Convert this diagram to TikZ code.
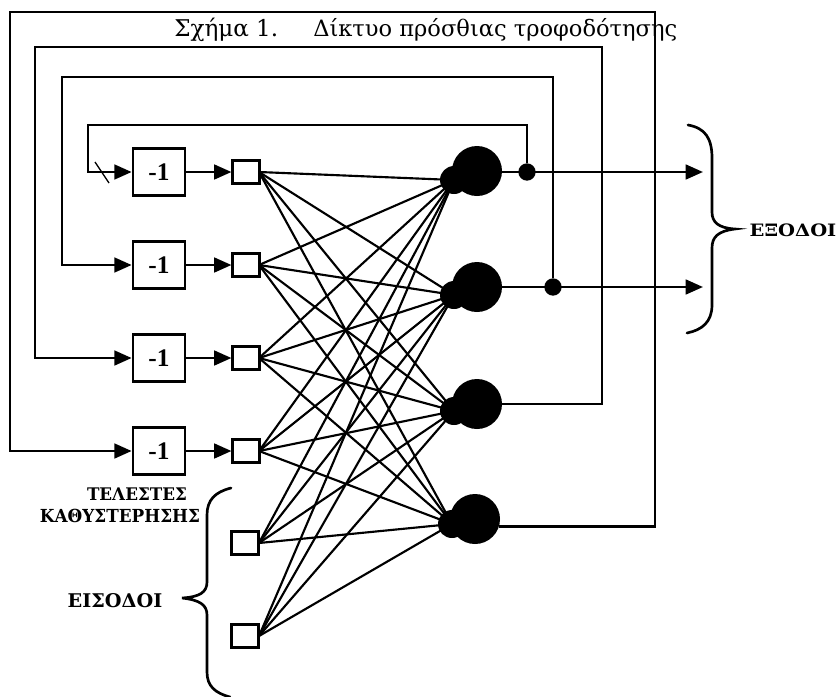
\documentclass[tikz,border=0pt]{standalone}
\usepackage{fontspec}
\setmainfont{DejaVu Serif}
\newfontfamily\timesfont{Liberation Serif}
\usetikzlibrary{arrows.meta}
\begin{document}
\begin{tikzpicture}[x=0.75pt,y=-0.75pt,
  wire/.style={line width=2pt},
  fan/.style={line width=1.6pt},
  tip/.style={-{Triangle[length=13pt,width=11pt]}},
  delaybox/.style={draw,line width=2pt,minimum width=39pt,minimum height=35pt,inner sep=0pt,font=\timesfont\bfseries\fontsize{19}{21}\selectfont},
  inbox/.style={draw,line width=1.8pt,fill=white,minimum width=20pt,minimum height=17pt,inner sep=0pt},
  neuron/.style={circle,fill=black,minimum size=37.5pt,inner sep=0pt},
  blob/.style={circle,fill=black,minimum size=21pt,inner sep=0pt},
  junct/.style={circle,fill=black,minimum size=13pt,inner sep=0pt},
  lbl/.style={inner sep=0pt,font=\bfseries},
  brace/.style={line width=2pt,line cap=round}]
\useasboundingbox (0,0) rectangle (840,697);
\fill[white] (0,0) rectangle (840,697);

% title
\node[inner sep=0pt,anchor=base west] (t1) at (174,36) {\resizebox{78pt}{!}{Σχήμα 1.}};
\node[inner sep=0pt,anchor=base west] (t2) at (313,36) {\resizebox{273pt}{!}{Δίκτυο πρόσθιας τροφοδότησης}};

% delay boxes
\node[delaybox] (d1) at (159,172) {-1};
\node[delaybox] (d2) at (159,265) {-1};
\node[delaybox] (d3) at (159,358) {-1};
\node[delaybox] (d4) at (159,451) {-1};

% neurons
\node[neuron] (n1) at (477,171) {};
\node[neuron] (n2) at (477,287) {};
\node[neuron] (n3) at (477,404) {};
\node[neuron] (n4) at (475,519) {};
\node[blob] (b1) at (454,180) {};
\node[blob] (b2) at (454,295) {};
\node[blob] (b3) at (454,411) {};
\node[blob] (b4) at (452,524) {};

% fan connections
\foreach \n/\y in {1/172,2/265,3/358,4/451,5/543,6/636}
  \coordinate (s\n) at (259,\y);
\foreach \i in {1,...,6}
  \foreach \n in {1,...,4}
    \draw[fan] (s\i) -- (b\n.center);

% input squares
\node[inbox] (i1) at (246,172) {};
\node[inbox] (i2) at (246,265) {};
\node[inbox] (i3) at (246,358) {};
\node[inbox] (i4) at (246,451) {};
\node[inbox] (i5) at (245,543) {};
\node[inbox] (i6) at (245,636) {};

% delay -> input
\foreach \k in {1,...,4}
  \draw[wire,tip] (d\k.east) -- (i\k.west);

% outputs
\node[junct] (j1) at (527,172) {};
\node[junct] (j2) at (553,287) {};
\coordinate (o1) at (703,172);
\coordinate (o2) at (703,287);
\draw[wire,tip] (n1.east |- j1) -- (o1);
\draw[wire,tip] (n2.east) -- (o2);

% feedback loops
\draw[wire,tip] (j1) |- (88,125) |- (d1.west);
\draw[wire,tip] (j2) |- (62,77) |- (d2.west);
\draw[wire,tip] (n3.east) -| (602,47) -| (35,358) -- (d3.west);
\draw[wire,tip] (n4.-18) -| (655,12) -| (10,451) -- (d4.west);

% stray mark
\draw[line width=1pt] (95,162) -- (109,183);

% right brace
\draw[brace] (688,125) .. controls (705,128) and (712,138) .. (712,158)
  -- (712,212) .. controls (712,222) and (718,228) .. (735,229)
  .. controls (718,231) and (712,237) .. (712,248)
  -- (712,305) .. controls (712,322) and (702,330) .. (687,333);
\node[lbl] (lout) at (793,230) {\resizebox{65pt}{9.5pt}{ΕΞΟΔΟΙ}};

% left brace
\draw[brace] (231,488) .. controls (215,492) and (207,500) .. (207,515)
  -- (207,582) .. controls (207,592) and (200,597) .. (182,598)
  .. controls (200,600) and (207,605) .. (207,615)
  -- (207,672) .. controls (207,686) and (215,693) .. (230,697);
\node[lbl] (lin) at (115,601) {\resizebox{71pt}{10.5pt}{ΕΙΣΟΔΟΙ}};
\node[lbl] (ldel1) at (137,494) {\resizebox{75pt}{9.5pt}{ΤΕΛΕΣΤΕΣ}};
\node[lbl] (ldel2) at (120,516) {\resizebox{120pt}{10pt}{ΚΑΘΥΣΤΕΡΗΣΗΣ}};
\end{tikzpicture}
\end{document}
